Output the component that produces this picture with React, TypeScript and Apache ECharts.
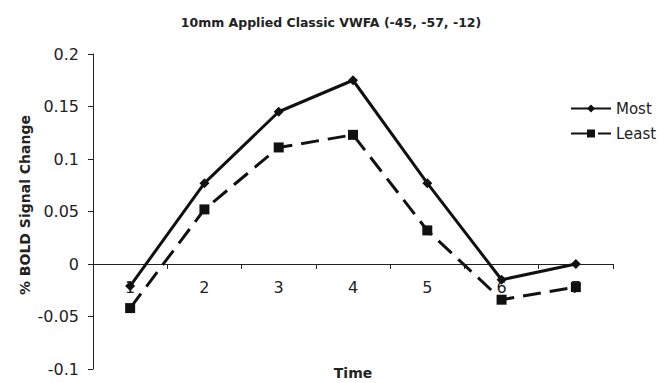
import React, { useEffect, useRef } from "react";
import * as echarts from "echarts";

const timePoints = ["1", "2", "3", "4", "5", "6", "7"];
const mostValues = [-0.021, 0.077, 0.145, 0.175, 0.077, -0.015, 0.0];
const leastValues = [-0.042, 0.052, 0.111, 0.123, 0.032, -0.034, -0.022];
const yTicks = { min: -0.1, max: 0.2, step: 0.05 };

const FONT = "DejaVu Sans, Verdana, sans-serif";
const GRID = { left: 93, right: 49, top: 54, bottom: 14 };
const HEIGHT = 383;

export default function App() {
  const ref = useRef<HTMLDivElement>(null);

  useEffect(() => {
    if (!ref.current) return;
    document.body.style.margin = "0";
    const chart = echarts.init(ref.current, null, { renderer: "svg" });
    // the category axis sits on the zero line: shift it up from the grid's bottom edge
    const plotH = HEIGHT - GRID.top - GRID.bottom;
    const zeroFromBottom = ((0 - yTicks.min) / (yTicks.max - yTicks.min)) * plotH;
    chart.setOption({
      animation: false,
      backgroundColor: "#ffffff",
      title: {
        text: "10mm Applied Classic VWFA (-45, -57, -12)",
        left: "center",
        top: 11,
        textStyle: { fontFamily: FONT, fontSize: 12.5, fontWeight: "bold", color: "#222" },
      },
      grid: { ...GRID, containLabel: false, outerBoundsMode: "none" },
      legend: {
        orient: "vertical",
        left: 565,
        top: 96,
        itemWidth: 40,
        itemHeight: 10,
        itemGap: 10,
        textStyle: { fontFamily: FONT, fontSize: 15, color: "#222" },
        data: ["Most", "Least"],
      },
      xAxis: {
        type: "category",
        data: timePoints,
        boundaryGap: true,
        offset: -zeroFromBottom,
        axisLine: { onZero: false, lineStyle: { color: "#222", width: 1 } },
        axisTick: { show: true, length: 5, lineStyle: { color: "#222" } },
        axisLabel: { fontFamily: FONT, fontSize: 16, color: "#222", margin: 15 },
      },
      yAxis: {
        type: "value",
        min: yTicks.min,
        max: yTicks.max,
        interval: yTicks.step,
        splitLine: { show: false },
        axisLine: { show: true, lineStyle: { color: "#222", width: 1 } },
        axisTick: { show: true, length: 5, lineStyle: { color: "#222" } },
        axisLabel: {
          fontFamily: FONT,
          fontSize: 16,
          color: "#222",
          margin: 14,
          formatter: (v: number) => String(Math.round(v * 100) / 100),
        },
      },
      graphic: [
        {
          type: "text",
          x: 353,
          y: 373,
          style: {
            text: "Time",
            font: `bold 14px ${FONT}`,
            fill: "#222",
            align: "center",
            verticalAlign: "middle",
          },
        },
        {
          type: "text",
          x: 25,
          y: 205,
          rotation: Math.PI / 2,
          style: {
            text: "% BOLD Signal Change",
            font: `bold 14px ${FONT}`,
            fill: "#222",
            align: "center",
            verticalAlign: "middle",
          },
        },
      ],
      series: [
        {
          name: "Most",
          type: "line",
          data: mostValues,
          symbol: "diamond",
          symbolSize: 10,
          lineStyle: { color: "#111", width: 3 },
          itemStyle: { color: "#111" },
        },
        {
          name: "Least",
          type: "line",
          data: leastValues,
          symbol: "rect",
          symbolSize: 10,
          lineStyle: { color: "#111", width: 3, type: [18, 9] },
          itemStyle: { color: "#111" },
        },
      ],
    });
    return () => chart.dispose();
  }, []);

  return <div ref={ref} style={{ width: 662, height: 383 }} />;
}
